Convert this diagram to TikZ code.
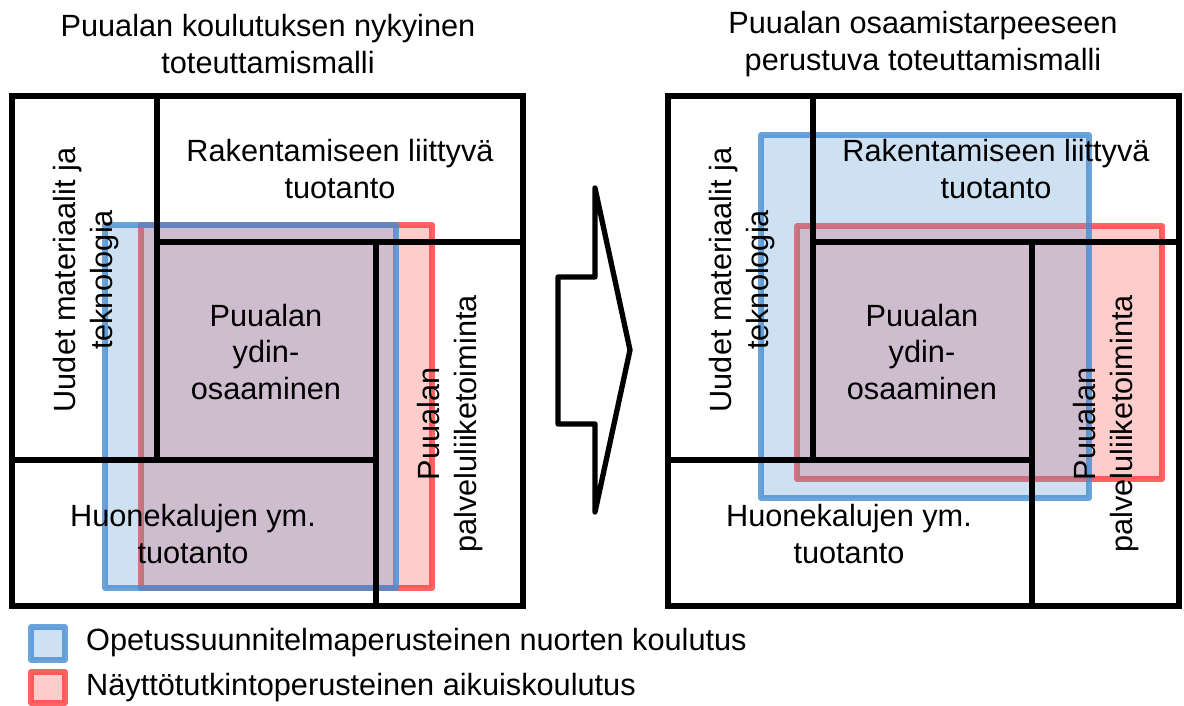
\documentclass[tikz,border=0pt]{standalone}
\usepackage{fontspec}
\setmainfont{Liberation Sans}
\definecolor{bluefill}{RGB}{91,155,213}
\definecolor{blueline}{RGB}{70,140,210}
\definecolor{redfill}{RGB}{255,0,0}
\definecolor{redline}{RGB}{255,60,60}
\begin{document}
\begin{tikzpicture}[x=1pt,y=-1pt,
  font=\fontsize{30.7}{36.5}\selectfont,
  every node/.style={inner sep=0pt, align=center, text=black},
  area/.style={line width=5.5pt, line join=round},
  youth/.style={area, draw=blueline, draw opacity=0.8, fill=bluefill, fill opacity=0.3},
  adult/.style={area, draw=redline, draw opacity=0.8, fill=redfill, fill opacity=0.2},
  frame/.style={draw=black, line width=5.3pt},
  pics/panel/.style={code={
    % outer square and the dividing lines between the fields
    \draw[frame] (12,96) rectangle (523,606);
    \draw[frame] (157,96) -- (157,460);
    \draw[frame] (157,242) -- (523,242);
    \draw[frame] (376,242) -- (376,606);
    \draw[frame] (12,460) -- (376,460);
    % field labels
    \node (rak) at (340,169) {Rakentamiseen liittyvä\\tuotanto};
    \node[rotate=90] (uud) at (86,280) {Uudet materiaalit ja\\teknologia};
    \node (ydin) at (266,352) {Puualan\\ydin-\\osaaminen};
    \node (huone) at (193,534) {Huonekalujen ym.\\tuotanto};
    \node[rotate=90] (palv) at (450,424) {Puualan\\palveluliiketoiminta};
  }}
]
\useasboundingbox (0,0) rectangle (1184,706);

% titles
\node (t1) at (268,44) {Puualan koulutuksen nykyinen\\toteuttamismalli};
\node (t2) at (923,44) {Puualan osaamistarpeeseen\\perustuva toteuttamismalli};

% current model: coverage areas
\draw[adult] (141,225) rectangle (432,588);
\draw[youth] (105,225) rectangle (396,588);
\pic (L) at (0,0) {panel};

% transition arrow
\draw[line width=5.3pt, line join=round]
  (558,277) -- (595,277) -- (595,188) -- (630,350) -- (595,512)
  -- (595,424) -- (558,424) -- cycle;

% needs-based model: coverage areas
\draw[adult] (797,226) rectangle (1162,479);
\draw[youth] (761,135) rectangle (1089,498);
\pic (R) at (656,0) {panel};

% legend
\draw[youth] (31,627) rectangle (65,660);
\node[anchor=west] (lg1) at (86,643) {Opetussuunnitelmaperusteinen nuorten koulutus};
\draw[adult] (31,672) rectangle (65,703);
\node[anchor=west] (lg2) at (86,688) {Näyttötutkintoperusteinen aikuiskoulutus};
\end{tikzpicture}
\end{document}
